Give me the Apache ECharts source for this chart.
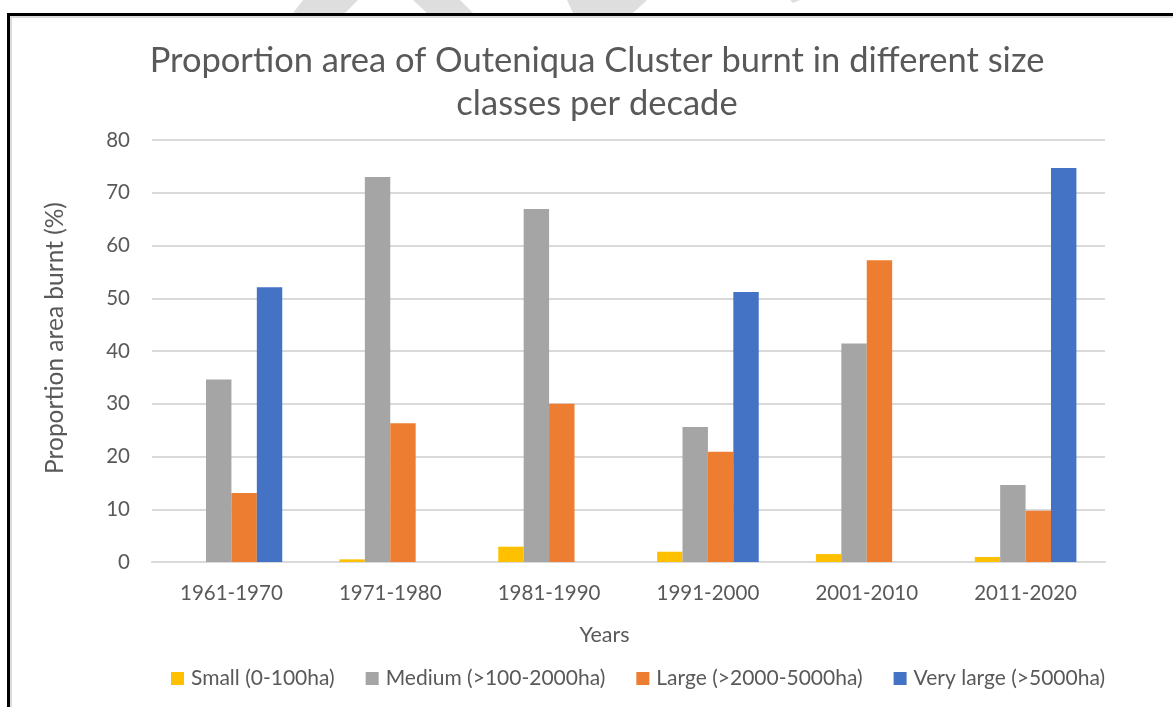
<!DOCTYPE html>
<html>
<head>
<meta charset="utf-8">
<script src="https://cdn.jsdelivr.net/npm/echarts@6/dist/echarts.min.js"></script>
<style>
html,body{margin:0;padding:0;background:#fff;}
#chart{width:1173px;height:707px;}
</style>
</head>
<body>
<div id="chart"></div>
<script>
const categories = ['1961-1970','1971-1980','1981-1990','1991-2000','2001-2010','2011-2020'];
const seriesNames = ['Small (0-100ha)','Medium (>100-2000ha)','Large (>2000-5000ha)','Very large (>5000ha)'];
const small = [0, 0.5, 2.9, 1.95, 1.5, 0.95];
const medium = [34.6, 73.0, 66.9, 25.6, 41.4, 14.6];
const large = [13.1, 26.3, 30.0, 20.9, 57.2, 9.7];
const veryLarge = [52.1, 0, 0, 51.2, 0, 74.7];
const yTicks = [0, 10, 20, 30, 40, 50, 60, 70, 80];
const colors = ['#FFC000','#A5A5A5','#ED7D31','#4472C4'];

const FONT = 'Lato, "Liberation Sans", sans-serif';
const TXT = '#595959';

const chart = echarts.init(document.getElementById('chart'), null, {renderer:'canvas'});
const dataSets = [small, medium, large, veryLarge];

chart.setOption({
  animation:false,
  backgroundColor:'#fff',
  color: colors,
  title:{
    text:'Proportion area of Outeniqua Cluster burnt in different size\nclasses per decade',
    left:592, top:34, textAlign:'center',
    textStyle:{fontFamily:FONT, fontSize:34.5, fontWeight:'normal', color:TXT, lineHeight:43}
  },
  grid:{left:152, right:68, top:140, bottom:145},
  legend:{
    top:663, left:166,
    itemWidth:13, itemHeight:13, itemGap:31,
    icon:'rect',
    textStyle:{fontFamily:FONT, fontSize:21, color:TXT, padding:[0,0,0,2]},
    data: seriesNames
  },
  xAxis:{
    type:'category', data:categories,
    name:'Years', nameLocation:'middle', nameGap:62,
    nameTextStyle:{fontFamily:FONT, fontSize:21.5, color:TXT, padding:[0,48,0,0]},
    axisLine:{lineStyle:{color:'#d9d9d9', width:2}},
    axisTick:{show:false},
    axisLabel:{fontFamily:FONT, fontSize:20.5, color:TXT, margin:21}
  },
  yAxis:{
    type:'value', min:yTicks[0], max:yTicks[yTicks.length-1], interval:10,
    name:'Proportion area burnt (%)', nameLocation:'middle', nameGap:84,
    nameTextStyle:{fontFamily:FONT, fontSize:24.5, color:TXT, padding:[0,0,0,26]},
    axisLine:{show:false}, axisTick:{show:false},
    axisLabel:{fontFamily:FONT, fontSize:20.5, color:TXT, margin:22},
    splitLine:{lineStyle:{color:'#d9d9d9', width:2}}
  },
  series: seriesNames.map((n,i)=>({
    name:n, type:'bar', data:dataSets[i],
    barGap:'0%', barCategoryGap:'36%',
    itemStyle:{color:colors[i]}
  })),
  graphic:[
    {type:'polygon', silent:true, shape:{points:[[303,0],[358,0],[345,13],[293,13]]}, style:{fill:'#dedede'}},
    {type:'polygon', silent:true, shape:{points:[[413,0],[460,0],[473,13],[427,13]]}, style:{fill:'#dedede'}},
    {type:'polygon', silent:true, shape:{points:[[567,0],[647,0],[633,13],[573,13]]}, style:{fill:'#dedede'}},
    {type:'polygon', silent:true, shape:{points:[[790,0],[800,0],[793,3]]}, style:{fill:'#dedede'}},
    {type:'rect', silent:true, shape:{x:8, y:16, width:1165, height:2}, style:{fill:'#dcdcdc'}},
    {type:'rect', silent:true, shape:{x:10, y:16, width:2, height:691}, style:{fill:'#dcdcdc'}},
    {type:'rect', silent:true, shape:{x:7, y:13, width:1166, height:3}, style:{fill:'#000'}},
    {type:'rect', silent:true, shape:{x:7, y:13, width:3, height:694}, style:{fill:'#000'}}
  ]
});
</script>
</body>
</html>
